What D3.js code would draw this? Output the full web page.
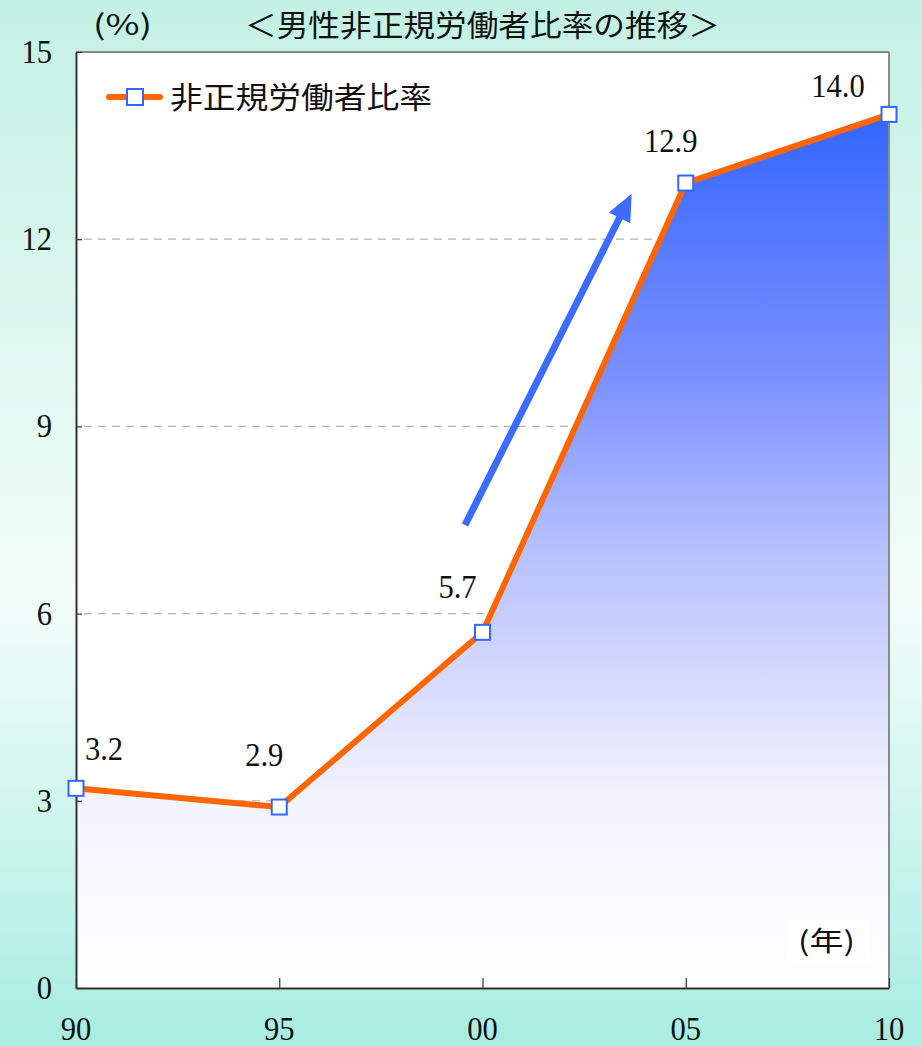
<!DOCTYPE html>
<html><head><meta charset="utf-8">
<script src="https://cdn.jsdelivr.net/npm/d3@7"></script>
<style>html,body{margin:0;padding:0;background:#fff}svg{display:block}</style>
</head><body>
<script>
// ---- data ----
const years = [1990, 1995, 2000, 2005, 2010];
const values = [3.2, 2.9, 5.7, 12.9, 14.0];
const valueLabels = ["3.2", "2.9", "5.7", "12.9", "14.0"];
const xTickLabels = ["90", "95", "00", "05", "10"];
const yTicks = [0, 3, 6, 9, 12, 15];
const seriesName = "非正規労働者比率";
const title = "＜男性非正規労働者比率の推移＞";
const arrowFrom = {year: 1999.57, value: 7.42};
const arrowTo = {year: 2003.67, value: 12.73};

// ---- layout ----
const W = 922, H = 1046;
const m = {left: 76, right: 33, top: 52, bottom: 58};
const labelOffsets = [[28, -28], [-15, -41], [-25, -34], [-15, -31], [-51, -17]];
const numFont = "'Liberation Serif', 'DejaVu Serif', serif";
const cjkFont = "'Noto Sans CJK JP', 'Noto Sans', sans-serif";

const svg = d3.select("body").append("svg").attr("width", W).attr("height", H);
const defs = svg.append("defs");

const bg = defs.append("linearGradient").attr("id", "bg").attr("x1", 0).attr("y1", 0).attr("x2", 0).attr("y2", 1);
[[0, "#c3f1e3"], [0.57, "#f3fdfa"], [1, "#a8ede0"]].forEach(s => bg.append("stop").attr("offset", s[0]).attr("stop-color", s[1]));
svg.append("rect").attr("width", W).attr("height", H).attr("fill", "url(#bg)");

const x = d3.scaleLinear().domain([1990, 2010]).range([m.left, W - m.right]);
const y = d3.scaleLinear().domain([0, 15]).range([H - m.bottom, m.top]);

// plot background
svg.append("rect").attr("x", x(1990)).attr("y", y(15)).attr("width", x(2010) - x(1990)).attr("height", y(0) - y(15)).attr("fill", "#fff");

// gridlines
svg.append("g").selectAll("line").data(yTicks.filter(t => t > 0 && t < 15)).join("line")
  .attr("x1", x(1990) + 8).attr("x2", x(2010)).attr("y1", d => y(d)).attr("y2", d => y(d))
  .attr("stroke", "#b4b4b4").attr("stroke-width", 1.2).attr("stroke-dasharray", "8,6");

// area gradient
const ag = defs.append("linearGradient").attr("id", "area").attr("gradientUnits", "userSpaceOnUse")
  .attr("x1", 0).attr("x2", 0).attr("y1", y(14)).attr("y2", y(0));
[[0, "#3366ff"], [0.3, "#7a90ff"], [0.5, "#b6c2fc"], [0.6, "#ccd2fd"], [0.78, "#f3f3fe"], [1, "#ffffff"]]
  .forEach(s => ag.append("stop").attr("offset", s[0]).attr("stop-color", s[1]));

const pts = years.map((yr, i) => [yr, values[i]]);
svg.append("path").datum(pts)
  .attr("d", d3.area().x(d => x(d[0])).y0(y(0)).y1(d => y(d[1])))
  .attr("fill", "url(#area)");

// (年) box
svg.append("rect").attr("x", 787).attr("y", 920).attr("width", 83).attr("height", 43).attr("fill", "#fff");
svg.append("text").attr("x", 798).attr("y", 951).attr("font-family", cjkFont).attr("font-size", 27)
  .attr("textLength", 57).attr("lengthAdjust", "spacingAndGlyphs").attr("fill", "#111").text("(年)");

// frame
svg.append("line").attr("x1", x(1990)).attr("x2", x(2010)).attr("y1", y(15)).attr("y2", y(15)).attr("stroke", "#8a8a8a").attr("stroke-width", 2);
svg.append("line").attr("x1", x(2010)).attr("x2", x(2010)).attr("y1", y(15)).attr("y2", y(0)).attr("stroke", "#8a8a8a").attr("stroke-width", 2);

// axes
const yAxis = svg.append("g").attr("transform", `translate(${x(1990)},0)`)
  .call(d3.axisLeft(y).tickValues(yTicks).tickSizeInner(-6).tickSizeOuter(0).tickFormat(""));
yAxis.select(".domain").attr("stroke", "#333").attr("stroke-width", 2);
yAxis.selectAll(".tick line").attr("stroke", "#333").attr("stroke-width", 1.2);

const xAxis = svg.append("g").attr("transform", `translate(0,${y(0)})`)
  .call(d3.axisBottom(x).tickValues(years).tickSizeInner(-10).tickSizeOuter(0).tickFormat(""));
xAxis.select(".domain").attr("stroke", "#333").attr("stroke-width", 2);
xAxis.selectAll(".tick line").attr("stroke", "#333").attr("stroke-width", 1.2);

function numText(g, tx, ty, s, anchor) {
  g.append("text").attr("transform", `translate(${tx},${ty}) scale(0.9,1)`)
    .attr("text-anchor", anchor).attr("font-family", numFont).attr("font-size", 34).attr("fill", "#111").text(s);
}
const labels = svg.append("g");
yTicks.forEach(t => numText(labels, 52, y(t) + 11, String(t), "end"));
years.forEach((yr, i) => numText(labels, x(yr), 1040, xTickLabels[i], "middle"));

// arrow annotation
const ax1 = x(arrowFrom.year), ay1 = y(arrowFrom.value), ax2 = x(arrowTo.year), ay2 = y(arrowTo.value);
const ang = Math.atan2(ay2 - ay1, ax2 - ax1);
const headLen = 27, headW = 12;
const bx = ax2 - headLen * Math.cos(ang), by = ay2 - headLen * Math.sin(ang);
svg.append("line").attr("x1", ax1).attr("y1", ay1).attr("x2", bx + 2 * Math.cos(ang)).attr("y2", by + 2 * Math.sin(ang))
  .attr("stroke", "#3d6bff").attr("stroke-width", 7);
svg.append("path").attr("d", `M${ax2},${ay2}L${bx + headW * Math.sin(ang)},${by - headW * Math.cos(ang)}L${bx - headW * Math.sin(ang)},${by + headW * Math.cos(ang)}Z`)
  .attr("fill", "#3d6bff");

// line
svg.append("path").datum(pts)
  .attr("d", d3.line().x(d => x(d[0])).y(d => y(d[1])))
  .attr("fill", "none").attr("stroke", "#ff6600").attr("stroke-width", 6).attr("stroke-linejoin", "round");

// markers
svg.append("g").selectAll("rect").data(pts).join("rect")
  .attr("x", d => x(d[0]) - 7.5).attr("y", d => y(d[1]) - 7.5).attr("width", 15).attr("height", 15)
  .attr("fill", "#fff").attr("stroke", "#3366ff").attr("stroke-width", 2);

// value labels
pts.forEach((d, i) => numText(labels, x(d[0]) + labelOffsets[i][0], y(d[1]) + labelOffsets[i][1], valueLabels[i], "middle"));

// legend
const lg = svg.append("g");
lg.append("line").attr("x1", 109).attr("x2", 160).attr("y1", 97).attr("y2", 97)
  .attr("stroke", "#ff6600").attr("stroke-width", 6).attr("stroke-linecap", "round");
lg.append("rect").attr("x", 127).attr("y", 89).attr("width", 16).attr("height", 16)
  .attr("fill", "#fff").attr("stroke", "#3366ff").attr("stroke-width", 2);
lg.append("text").attr("x", 170).attr("y", 108).attr("font-family", cjkFont).attr("font-size", 30)
  .attr("textLength", 262).attr("lengthAdjust", "spacingAndGlyphs").attr("fill", "#111").text(seriesName);

// title & unit
svg.append("text").attr("x", 245).attr("y", 36).attr("font-family", cjkFont).attr("font-size", 30)
  .attr("textLength", 475).attr("lengthAdjust", "spacingAndGlyphs").attr("fill", "#111").text(title);
svg.append("text").attr("x", 93).attr("y", 35).attr("font-family", cjkFont).attr("font-size", 28)
  .attr("textLength", 59).attr("lengthAdjust", "spacingAndGlyphs").attr("fill", "#111").text("(%)");
</script>
</body></html>
